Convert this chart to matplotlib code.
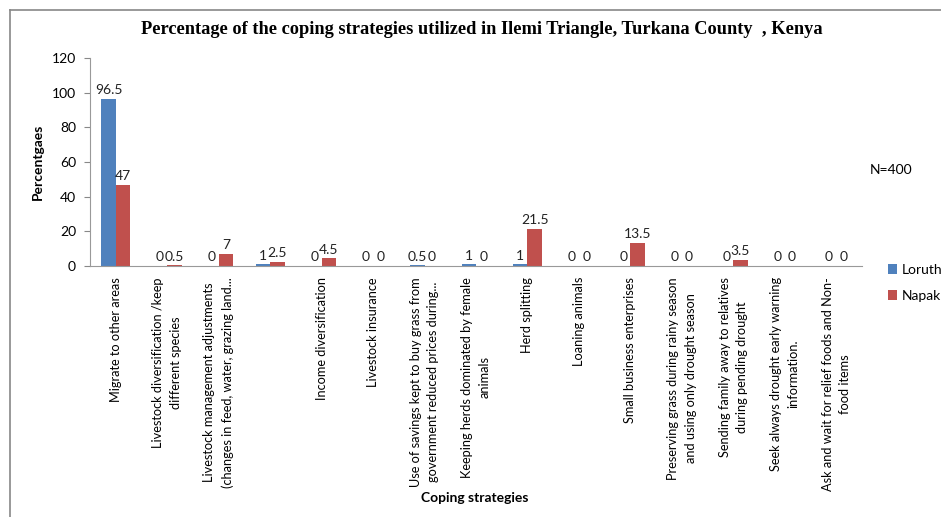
import numpy as np
import matplotlib
matplotlib.use("Agg")
import matplotlib.pyplot as plt
from matplotlib.lines import Line2D

# chart data
strategies = [
    "Migrate to other areas",
    "Livestock diversification /keep\ndifferent species",
    "Livestock management adjustments\n(changes in feed, water, grazing land...",
    "",
    "Income diversification",
    "Livestock insurance",
    "Use of savings kept to buy grass from\ngovernment reduced prices during...",
    "Keeping herds dominated by female\nanimals",
    "Herd splitting",
    "Loaning animals",
    "Small business enterprises",
    "Preserving grass during rainy season\nand using only drought season",
    "Sending family away to relatives\nduring pending drought",
    "Seek always drought early warning\ninformation.",
    "Ask and wait for relief foods and Non-\nfood items",
]
loruth = [96.5, 0, 0, 1, 0, 0, 0.5, 1, 1, 0, 0, 0, 0, 0, 0]
napak = [47, 0.5, 7, 2.5, 4.5, 0, 0, 0, 21.5, 0, 13.5, 0, 3.5, 0, 0]
yticks = [0, 20, 40, 60, 80, 100, 120]

blue = "#4F81BD"
red = "#C0504D"
plt.rcParams['font.family'] = ['Lato', 'DejaVu Sans']

fig = plt.figure(figsize=(9.41, 5.17), dpi=100)
ax = fig.add_axes([90 / 941, 1 - 266 / 517, (862 - 90) / 941, (266 - 58) / 517])

x = np.arange(len(strategies))
w = 0.28
b1 = ax.bar(x - w / 2, loruth, w, color=blue, label="Loruth")
b2 = ax.bar(x + w / 2, napak, w, color=red, label="Napak")

for bars, vals in ((b1, loruth), (b2, napak)):
    for rect, v in zip(bars, vals):
        txt = f"{v:g}"
        ax.text(rect.get_x() + rect.get_width() / 2, v + 1.5, txt,
                ha="center", va="bottom", fontsize=10, color="#222222")

ax.set_xlim(-0.5, len(strategies) - 0.5)
ax.set_ylim(0, 120)
ax.set_yticks(yticks)
ax.set_xticks(x)
ax.set_xticklabels(strategies, rotation=90, ha="center", va="top",
                   multialignment="center", fontsize=9.2, linespacing=1.55)
ax.tick_params(axis="x", length=0, pad=8)
ax.tick_params(axis="y", length=4, color="#888888", labelsize=10, pad=6)
for s in ("top", "right"):
    ax.spines[s].set_visible(False)
for s in ("left", "bottom"):
    ax.spines[s].set_color("#999999")

ax.set_ylabel("Percentgaes", fontsize=10, fontweight="bold", labelpad=6)
fig.text(475 / 941, 1 - 498 / 517, "Coping strategies", ha="center", va="center",
         fontsize=10, fontweight="bold")

fig.text(482 / 941, 1 - 30 / 517,
         "Percentage of the coping strategies utilized in Ilemi Triangle, Turkana County  , Kenya",
         ha="center", va="center", fontsize=13.2, fontweight="bold",
         family="Liberation Serif")

fig.text(870 / 941, 1 - 170 / 517, "N=400", ha="left", va="center", fontsize=10)

fig.legend(handles=[b1, b2], loc="center left", bbox_to_anchor=(875 / 941, 1 - 283 / 517),
           frameon=False, handlelength=0.7, handleheight=0.7, handletextpad=0.3,
           labelspacing=1.0, fontsize=10)

# outer chart frame (top and left edges visible in the reference)
fig.add_artist(Line2D([10 / 941, 1], [1 - 10 / 517, 1 - 10 / 517],
                      transform=fig.transFigure, color="#888888", lw=1.2))
fig.add_artist(Line2D([10 / 941, 10 / 941], [0, 1 - 10 / 517],
                      transform=fig.transFigure, color="#888888", lw=1.2))

fig.savefig("out.png", dpi=100)
